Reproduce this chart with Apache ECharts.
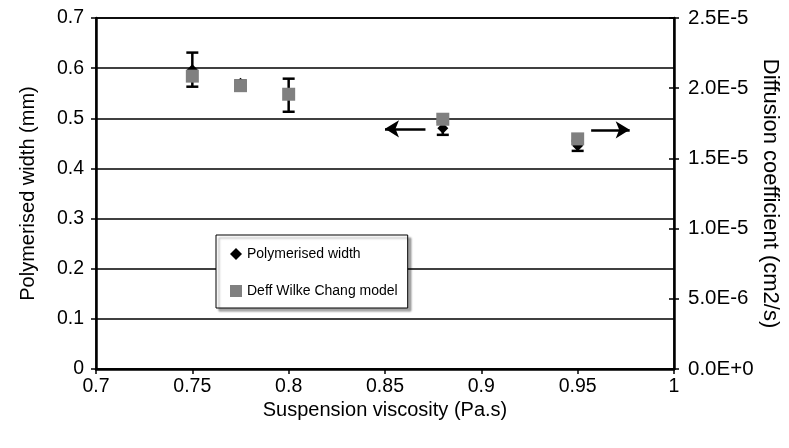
<!DOCTYPE html>
<html>
<head>
<meta charset="utf-8">
<style>
  html, body { margin: 0; padding: 0; background: #fff; }
  #chart { width: 789px; height: 448px; }
</style>
<script src="https://cdn.jsdelivr.net/npm/echarts@6/dist/echarts.min.js"></script>
</head>
<body>
<div id="chart"></div>
<script>
// Suspension viscosity (Pa.s)
var viscosity = [0.75, 0.775, 0.8, 0.88, 0.95];
// Polymerised width (mm) and its error (±)
var widthMm = [0.597, 0.570, 0.546, 0.480, 0.445];
var widthErr = [0.034, 0.005, 0.033, 0.013, 0.010];
// Diffusion coefficient from the Wilke-Chang model (cm2/s)
var deffWilkeChang = [2.086e-5, 2.018e-5, 1.957e-5, 1.779e-5, 1.639e-5];

var xTicks = [0.7, 0.75, 0.8, 0.85, 0.9, 0.95, 1];
var leftTicks = [0, 0.1, 0.2, 0.3, 0.4, 0.5, 0.6, 0.7];
var rightTicks = [0, 5e-6, 1e-5, 1.5e-5, 2e-5, 2.5e-5];

// Arrow annotations pointing to the axis each series belongs to
var arrowToLeft = { from: [0.871, 0.479], to: [0.850, 0.479] };
var arrowToRight = { from: [0.957, 0.477], to: [0.977, 0.477] };

var FONT = 'Liberation Sans, Arial, Helvetica, sans-serif';

var widthPoints = viscosity.map(function (x, i) { return [x, widthMm[i]]; });
var errPoints = viscosity.map(function (x, i) { return [x, widthMm[i] - widthErr[i], widthMm[i] + widthErr[i]]; });
var deffPoints = viscosity.map(function (x, i) { return [x, deffWilkeChang[i]]; });

var chart = echarts.init(document.getElementById('chart'), null, { renderer: 'canvas' });

var nameStyle = { color: '#000', fontSize: 20, fontFamily: FONT };
var TICK_FONT = 19.5;

chart.setOption({
  animation: false,
  backgroundColor: '#fff',
  grid: {
    left: 96, right: 115, top: 18, bottom: 79,
    outerBoundsMode: 'none',
    containLabel: false,
    show: true, borderColor: '#000', borderWidth: 1.5
  },
  legend: {
    orient: 'vertical',
    left: 216, top: 235,
    padding: [12, 10, 10, 14],
    itemGap: 23,
    itemWidth: 12, itemHeight: 12,
    borderColor: '#000', borderWidth: 1,
    backgroundColor: '#fff',
    shadowColor: 'rgba(0,0,0,0.35)', shadowBlur: 2, shadowOffsetX: 3, shadowOffsetY: 3,
    textStyle: { color: '#000', fontSize: 14, fontFamily: FONT },
    data: [
      { name: 'Polymerised width', icon: 'diamond' },
      { name: 'Deff Wilke Chang model', icon: 'rect' }
    ]
  },
  xAxis: {
    type: 'value',
    min: xTicks[0], max: xTicks[xTicks.length - 1], interval: 0.05,
    name: 'Suspension viscosity (Pa.s)',
    nameLocation: 'middle', nameGap: 31,
    nameMoveOverlap: false,
    nameTextStyle: nameStyle,
    axisLine: { show: true, lineStyle: { color: '#000', width: 2.5 } },
    axisTick: { show: true, length: 5, lineStyle: { color: '#000', width: 1.5 } },
    axisLabel: {
      margin: 8, color: '#000', fontSize: TICK_FONT, fontFamily: FONT,
      formatter: function (v) { return String(Math.round(v * 100) / 100); }
    },
    splitLine: { show: false }
  },
  yAxis: [
    {
      type: 'value', position: 'left',
      min: leftTicks[0], max: leftTicks[leftTicks.length - 1], interval: 0.1,
      name: 'Polymerised width (mm)',
      nameLocation: 'middle', nameGap: 58, nameRotate: 90,
      nameMoveOverlap: false,
      nameTextStyle: nameStyle,
      axisLine: { show: true, lineStyle: { color: '#000', width: 2.5 } },
      axisTick: { show: true, length: 5, lineStyle: { color: '#000', width: 1.5 } },
      axisLabel: {
        margin: 12, color: '#000', fontSize: TICK_FONT, fontFamily: FONT,
        formatter: function (v) { return String(Math.round(v * 10) / 10); }
      },
      splitLine: { show: true, lineStyle: { color: '#000', width: 1.5 } }
    },
    {
      type: 'value', position: 'right',
      min: rightTicks[0], max: rightTicks[rightTicks.length - 1], interval: 5e-6,
      name: 'Diffusion coefficient (cm2/s)',
      nameLocation: 'middle', nameGap: 85, nameRotate: -90,
      nameMoveOverlap: false,
      nameTextStyle: { color: '#000', fontSize: 22, fontFamily: FONT },
      axisLine: { show: true, lineStyle: { color: '#000', width: 2.5 } },
      axisTick: { show: true, length: 5, lineStyle: { color: '#000', width: 1.5 } },
      axisLabel: {
        margin: 14, color: '#000', fontSize: 20.5, fontFamily: FONT,
        formatter: function (v) { return v.toExponential(1).toUpperCase(); }
      },
      splitLine: { show: false }
    },
    {
      // inner half of the crossing ticks on the right axis
      type: 'value', position: 'right',
      min: rightTicks[0], max: rightTicks[rightTicks.length - 1], interval: 5e-6,
      axisLine: { show: false },
      axisTick: { show: true, inside: true, length: 5, lineStyle: { color: '#000', width: 1.5 } },
      axisLabel: { show: false },
      splitLine: { show: false }
    }
  ],
  series: [
    {
      name: 'errorbars',
      type: 'custom',
      yAxisIndex: 0,
      data: errPoints,
      z: 2,
      silent: true,
      renderItem: function (params, api) {
        var x = api.value(0);
        var lo = api.coord([x, api.value(1)]);
        var hi = api.coord([x, api.value(2)]);
        var cap = 6;
        var style = { stroke: '#000', lineWidth: 2.5 };
        return {
          type: 'group',
          children: [
            { type: 'line', shape: { x1: lo[0], y1: lo[1], x2: hi[0], y2: hi[1] }, style: style },
            { type: 'line', shape: { x1: lo[0] - cap, y1: lo[1], x2: lo[0] + cap, y2: lo[1] }, style: style },
            { type: 'line', shape: { x1: hi[0] - cap, y1: hi[1], x2: hi[0] + cap, y2: hi[1] }, style: style }
          ]
        };
      }
    },
    {
      name: 'Polymerised width',
      type: 'scatter',
      yAxisIndex: 0,
      symbol: 'diamond',
      symbolSize: 11,
      itemStyle: { color: '#000', opacity: 1 },
      data: widthPoints,
      z: 3,
      markLine: {
        silent: true,
        symbol: ['none', 'arrow'],
        symbolSize: [13, 14],
        label: { show: false },
        lineStyle: { color: '#000', width: 2.5, type: 'solid' },
        data: [
          [{ coord: arrowToLeft.from }, { coord: arrowToLeft.to }],
          [{ coord: arrowToRight.from }, { coord: arrowToRight.to }]
        ]
      }
    },
    {
      name: 'Deff Wilke Chang model',
      type: 'scatter',
      yAxisIndex: 1,
      symbol: 'rect',
      symbolSize: 13,
      itemStyle: { color: '#808080', opacity: 1 },
      data: deffPoints,
      z: 4
    }
  ]
});
</script>
</body>
</html>
